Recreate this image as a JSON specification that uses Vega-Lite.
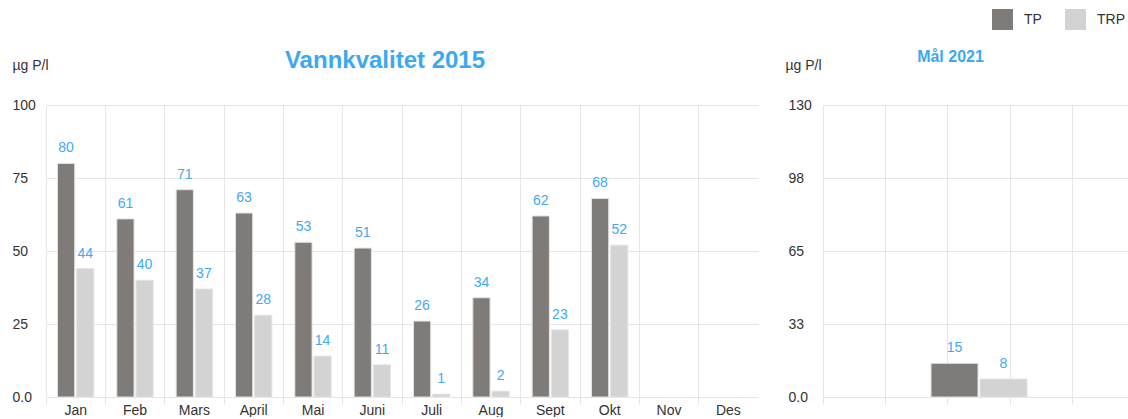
{
  "$schema": "https://vega.github.io/schema/vega-lite/v6.json",
  "padding": {"left": 12, "top": 9, "right": 0, "bottom": 0},
  "autosize": {"type": "pad"},
  "bounds": "flush",
  "spacing": 65,
  "config": {
    "font": "Liberation Sans",
    "view": {"stroke": null},
    "axis": {
      "labelFont": "Liberation Sans",
      "labelColor": "#333333",
      "labelFontSize": 14,
      "titleFont": "Liberation Sans",
      "titleColor": "#333333",
      "titleFontSize": 14,
      "titleFontWeight": "normal",
      "gridColor": "#e6e6e6",
      "tickColor": "#e6e6e6",
      "domain": false
    }
  },
  "datasets": {
    "monthly": [
      {"month": "Jan", "series": "TP", "value": 80},
      {"month": "Jan", "series": "TRP", "value": 44},
      {"month": "Feb", "series": "TP", "value": 61},
      {"month": "Feb", "series": "TRP", "value": 40},
      {"month": "Mars", "series": "TP", "value": 71},
      {"month": "Mars", "series": "TRP", "value": 37},
      {"month": "April", "series": "TP", "value": 63},
      {"month": "April", "series": "TRP", "value": 28},
      {"month": "Mai", "series": "TP", "value": 53},
      {"month": "Mai", "series": "TRP", "value": 14},
      {"month": "Juni", "series": "TP", "value": 51},
      {"month": "Juni", "series": "TRP", "value": 11},
      {"month": "Juli", "series": "TP", "value": 26},
      {"month": "Juli", "series": "TRP", "value": 1},
      {"month": "Aug", "series": "TP", "value": 34},
      {"month": "Aug", "series": "TRP", "value": 2},
      {"month": "Sept", "series": "TP", "value": 62},
      {"month": "Sept", "series": "TRP", "value": 23},
      {"month": "Okt", "series": "TP", "value": 68},
      {"month": "Okt", "series": "TRP", "value": 52}
    ],
    "target": [
      {"slot": "c", "series": "TP", "value": 15},
      {"slot": "c", "series": "TRP", "value": 8}
    ]
  },
  "hconcat": [
    {
      "width": 712,
      "height": 292,
      "title": {"text": "Vannkvalitet 2015", "fontSize": 24, "fontWeight": "bold", "color": "#3aa9f2", "anchor": "middle", "frame": "group", "dx": -17, "offset": -15},
      "data": {"name": "monthly"},
      "layer": [
        {
          "mark": {"type": "bar", "stroke": "#e4e4e4", "strokeWidth": 1},
          "encoding": {
            "x": {"field": "month", "type": "nominal", "sort": null,
              "scale": {"domain": ["Jan","Feb","Mars","April","Mai","Juni","Juli","Aug","Sept","Okt","Nov","Des"], "paddingInner": 0, "paddingOuter": 0},
              "axis": {"title": null, "labelAngle": 0, "grid": false, "ticks": false, "labelPadding": 6, "orient": "bottom"}},
            "xOffset": {"field": "series", "type": "nominal", "scale": {"domain": ["TP","TRP"], "paddingInner": 0.1, "paddingOuter": 0.6}},
            "y": {"field": "value", "type": "quantitative", "scale": {"domain": [0, 100]},
              "axis": {"values": [0,25,50,75,100], "ticks": false, "labelAlign": "left", "labelPadding": 34, "labelBaseline": "middle",
                "labelExpr": "datum.value == 0 ? '0.0' : datum.label",
                "title": "µg P/l", "titleAngle": 0, "titleAlign": "left", "titleBaseline": "middle", "titleX": -34, "titleY": -40}},
            "color": {"field": "series", "type": "nominal", "scale": {"domain": ["TP","TRP"], "range": ["#7f7b78","#d3d3d3"]},
              "legend": {"orient": "none", "legendX": 946, "legendY": -96, "direction": "horizontal", "title": null, "symbolType": "square", "symbolSize": 441, "symbolStrokeWidth": 0, "labelFontSize": 14, "labelColor": "#333333", "columnPadding": 23, "labelOffset": 11, "padding": 0}}
          }
        },
        {
          "mark": {"type": "text", "dy": -15, "fontSize": 14, "color": "#3fa9f5"},
          "encoding": {
            "x": {"field": "month", "type": "nominal", "sort": null,
              "scale": {"domain": ["Jan","Feb","Mars","April","Mai","Juni","Juli","Aug","Sept","Okt","Nov","Des"], "paddingInner": 0, "paddingOuter": 0},
              "axis": {"title": null, "labels": false, "grid": true, "ticks": true, "tickSize": 7, "bandPosition": 0, "orient": "bottom"}},
            "xOffset": {"field": "series", "type": "nominal", "scale": {"domain": ["TP","TRP"], "paddingInner": 0.1, "paddingOuter": 0.6}},
            "y": {"field": "value", "type": "quantitative"},
            "text": {"field": "value", "type": "quantitative"}
          }
        }
      ],
      "resolve": {"axis": {"x": "independent"}}
    },
    {
      "width": 305,
      "height": 292,
      "title": {"text": "Mål 2021", "fontSize": 16, "fontWeight": "bold", "color": "#3aa9f2", "anchor": "middle", "frame": "group", "dx": -25, "offset": -7},
      "data": {"name": "target"},
      "encoding": {
        "x": {"field": "slot", "type": "nominal",
          "scale": {"domain": ["a","b","c","d","e"], "paddingInner": 0, "paddingOuter": 0, "range": [0, 312]},
          "axis": {"title": null, "labels": false, "grid": true, "ticks": true, "tickSize": 7, "bandPosition": 0}},
        "y": {"field": "value", "type": "quantitative", "scale": {"domain": [0, 130]},
          "axis": {"values": [0,32.5,65,97.5,130], "format": ".0f", "ticks": false, "labelAlign": "left", "labelPadding": 35, "labelBaseline": "middle",
            "labelExpr": "datum.value == 0 ? '0.0' : datum.label",
            "title": "µg P/l", "titleAngle": 0, "titleAlign": "left", "titleBaseline": "middle", "titleX": -38, "titleY": -40}}
      },
      "layer": [
        {
          "transform": [{"filter": "datum.series == 'TP'"}],
          "mark": {"type": "bar", "width": 47, "xOffset": -24.5, "stroke": "#e4e4e4", "strokeWidth": 1},
          "encoding": {
            "color": {"field": "series", "type": "nominal", "scale": {"domain": ["TP","TRP"], "range": ["#7f7b78","#d3d3d3"]},
              "legend": {"orient": "none", "legendX": 946, "legendY": -96, "direction": "horizontal", "title": null, "symbolType": "square", "symbolSize": 441, "symbolStrokeWidth": 0, "labelFontSize": 14, "labelColor": "#333333", "columnPadding": 23, "labelOffset": 11, "padding": 0}}
          }
        },
        {
          "transform": [{"filter": "datum.series == 'TRP'"}],
          "mark": {"type": "bar", "width": 47, "xOffset": 24.5, "stroke": "#e4e4e4", "strokeWidth": 1},
          "encoding": {
            "color": {"field": "series", "type": "nominal", "scale": {"domain": ["TP","TRP"], "range": ["#7f7b78","#d3d3d3"]},
              "legend": {"orient": "none", "legendX": 946, "legendY": -96, "direction": "horizontal", "title": null, "symbolType": "square", "symbolSize": 441, "symbolStrokeWidth": 0, "labelFontSize": 14, "labelColor": "#333333", "columnPadding": 23, "labelOffset": 11, "padding": 0}}
          }
        },
        {
          "transform": [{"filter": "datum.series == 'TP'"}],
          "mark": {"type": "text", "dy": -15, "xOffset": -24.5, "fontSize": 14, "color": "#3fa9f5"},
          "encoding": {"text": {"field": "value", "type": "quantitative"}}
        },
        {
          "transform": [{"filter": "datum.series == 'TRP'"}],
          "mark": {"type": "text", "dy": -15, "xOffset": 24.5, "fontSize": 14, "color": "#3fa9f5"},
          "encoding": {"text": {"field": "value", "type": "quantitative"}}
        }
      ]
    }
  ]
}
